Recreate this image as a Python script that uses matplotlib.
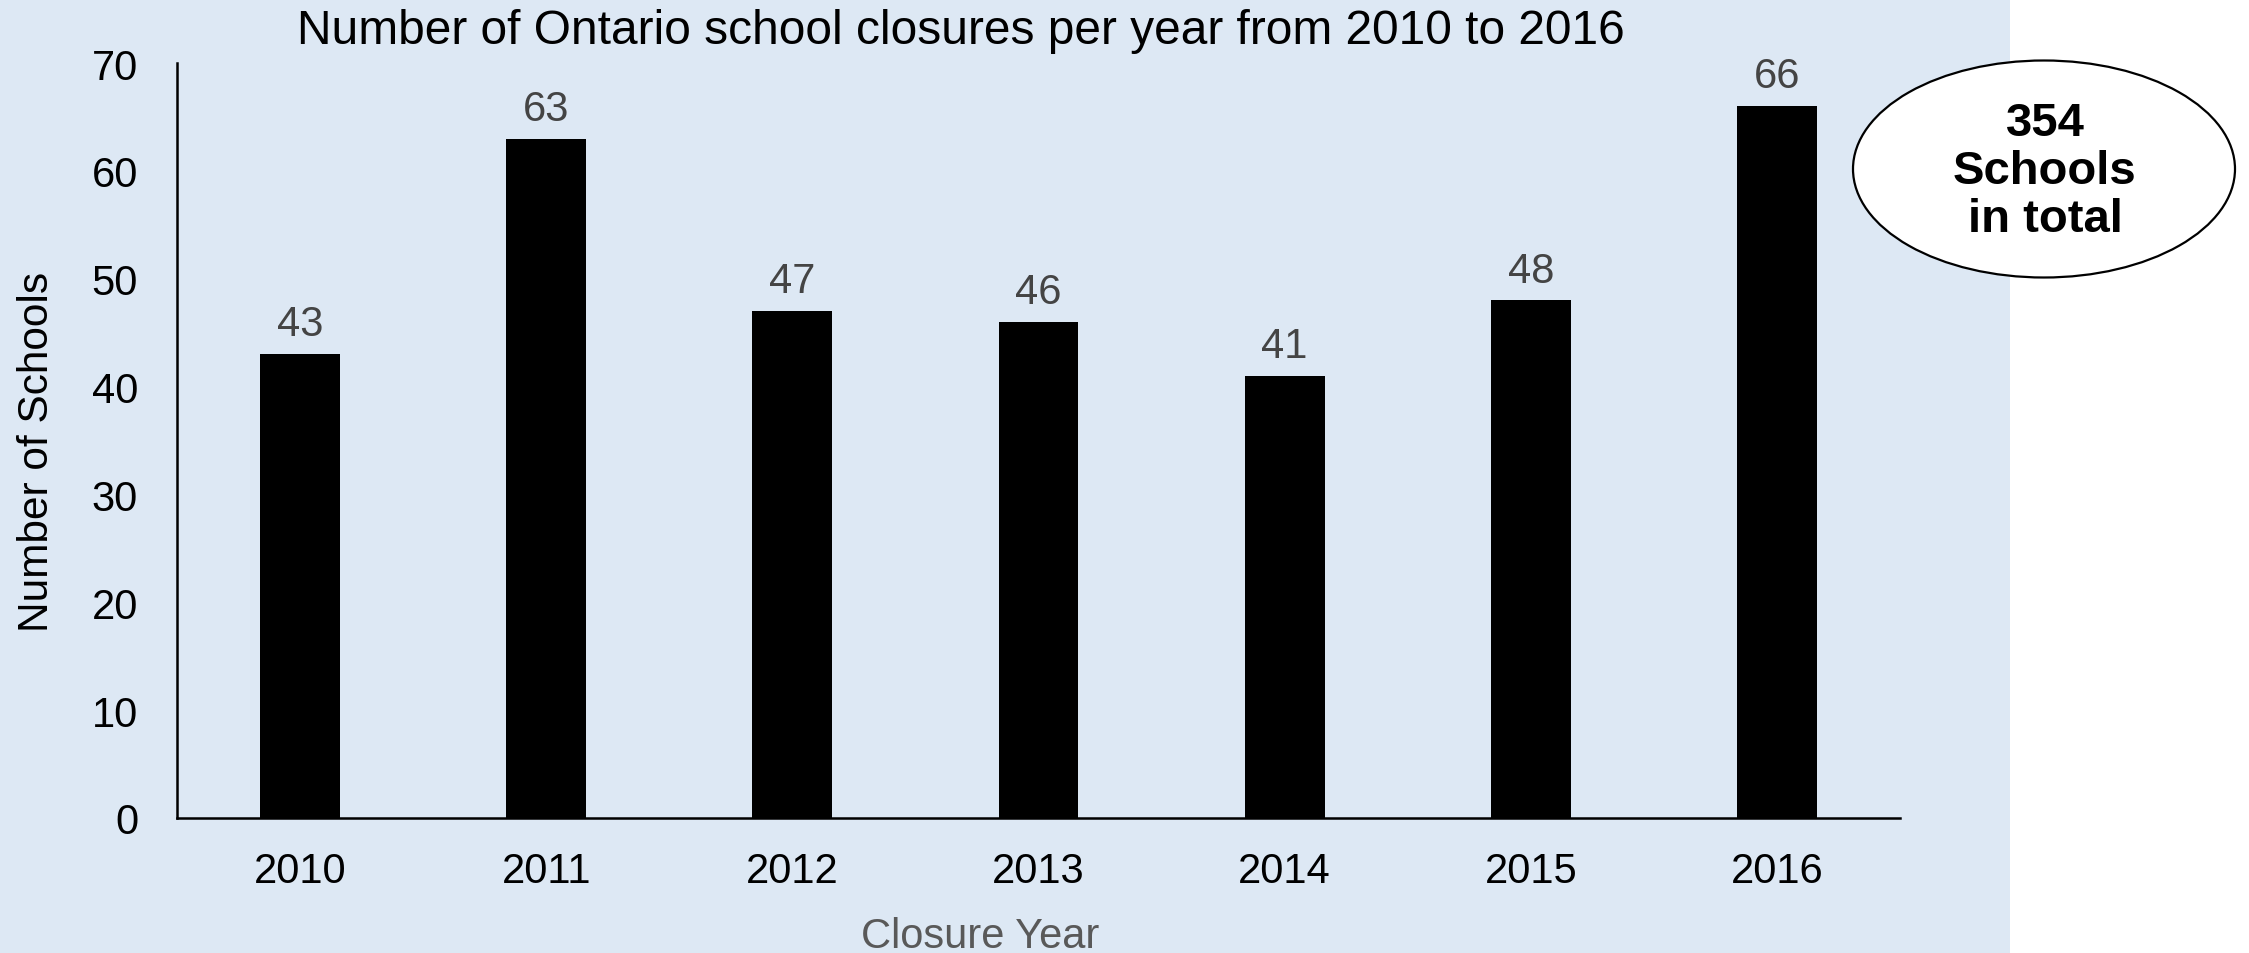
import matplotlib
matplotlib.use('Agg')
import matplotlib.pyplot as plt
from matplotlib.patches import Ellipse, Rectangle

# closures per year
years = ['2010', '2011', '2012', '2013', '2014', '2015', '2016']
closures = [43, 63, 47, 46, 41, 48, 66]
total = sum(closures)

BG = '#dde8f4'
VALUE_GREY = '#444444'
LABEL_GREY = '#595959'

plt.rcParams['font.family'] = ['Liberation Sans', 'DejaVu Sans']

W, H = 2249, 954
fig = plt.figure(figsize=(W / 100, H / 100), dpi=100)
fig.patch.set_facecolor('white')

# light blue panel behind the chart, white strip on the right
fig.patches.append(Rectangle((0, 0), 2010 / W, 1, transform=fig.transFigure,
                             facecolor=BG, edgecolor='none', zorder=0))

ax = fig.add_axes([177 / W, 1 - 819 / H, (1900 - 177) / W, (819 - 64) / H])
ax.set_facecolor('none')
ax.set_zorder(2)

x = list(range(len(years)))
bars = ax.bar(x, closures, width=0.325, color='black')
ax.bar_label(bars, labels=[str(v) for v in closures], padding=7,
             fontsize=30, color=VALUE_GREY)

ax.set_xlim(-0.5, len(years) - 0.5)
ax.set_ylim(0, 70)
ax.set_yticks(range(0, 71, 10))
ax.set_xticks(x)
ax.set_xticklabels(years)
ax.tick_params(axis='both', length=0, labelsize=30, colors='black')
ax.tick_params(axis='y', pad=28)
ax.tick_params(axis='x', pad=24)

for side in ['top', 'right']:
    ax.spines[side].set_visible(False)
for side in ['left', 'bottom']:
    ax.spines[side].set_linewidth(1.8)
    ax.spines[side].set_color('black')

fig.text(961 / W, 1 - 32 / H, 'Number of Ontario school closures per year from 2010 to 2016',
         ha='center', va='center', fontsize=34.5, color='black')
fig.text(37 / W, 1 - 452 / H, 'Number of Schools', rotation=90,
         ha='center', va='center', fontsize=30.5, color='black')
fig.text(980 / W, 1 - 948 / H, 'Closure Year', ha='center', va='baseline',
         fontsize=30, color=LABEL_GREY)

# total callout
fig.patches.append(Ellipse((2044 / W, 1 - 170 / H), 382 / W, 217 / H,
                           transform=fig.transFigure, facecolor='white',
                           edgecolor='black', linewidth=1.6, zorder=3))
fig.text(2045 / W, 1 - 172 / H, f'{total}\nSchools\nin total', ha='center',
         va='center', fontsize=34, fontweight='bold', color='black',
         linespacing=1.12, zorder=4)

fig.savefig('out.png', dpi=100)
plt.close(fig)
